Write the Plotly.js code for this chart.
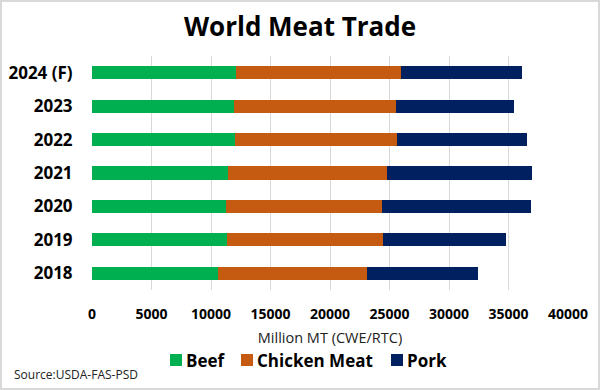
<!DOCTYPE html>
<html>
<head>
<meta charset="utf-8">
<script src="https://cdn.plot.ly/plotly-3.0.1.min.js"></script>
<style>
  html, body { margin: 0; padding: 0; background: #fff; }
  #frame { width: 600px; height: 390px; box-sizing: border-box; border: 2px solid #d9d9d9; }
  #chart { width: 596px; height: 386px; }
</style>
</head>
<body>
<div id="frame"><div id="chart"></div></div>
<script>
const years = ["2018", "2019", "2020", "2021", "2022", "2023", "2024 (F)"];
const beef = [10600, 11384, 11244, 11440, 12055, 11943, 12111];
const chicken = [12480, 13038, 13121, 13319, 13543, 13571, 13874];
const pork = [9342, 10350, 12505, 12195, 10936, 9954, 10155];
const xTicks = [0, 5000, 10000, 15000, 20000, 25000, 30000, 35000, 40000];
const seriesNames = ["Beef", "Chicken Meat", "Pork"];
const seriesColors = ["#00b050", "#c55a11", "#002060"];

const FONT = "Open Sans, sans-serif";
function mk(name, vals, color) {
  return { type: "bar", orientation: "h", name: name, x: vals, y: years,
           marker: { color: color }, width: 0.39, hoverinfo: "x+name", showlegend: false };
}
const data = [
  mk(seriesNames[0], beef, seriesColors[0]),
  mk(seriesNames[1], chicken, seriesColors[1]),
  mk(seriesNames[2], pork, seriesColors[2])
];

// plot area in page pixels (chart div is offset 2px by the frame border)
const M = { l: 90, r: 30, t: 54, b: 98 };
const W = 596, H = 386, OFF = 2;
const PL = OFF + M.l, PR = OFF + W - M.r, PT = OFF + M.t, PB = OFF + H - M.b;
const px = p => (p - PL) / (PR - PL);
const py = p => (PB - p) / (PB - PT);

// legend layout (pixel positions of swatches and labels)
const legendSwatchX = [170, 241, 391];
const legendTextX = [185, 256, 406];
const legendY = 360, sw = 12;

const shapes = [], annotations = [];
seriesNames.forEach((n, i) => {
  shapes.push({ type: "rect", xref: "paper", yref: "paper",
    x0: px(legendSwatchX[i]), x1: px(legendSwatchX[i] + sw),
    y0: py(legendY + sw / 2), y1: py(legendY - sw / 2),
    fillcolor: seriesColors[i], line: { width: 0 } });
  annotations.push({ text: "<b>" + n + "</b>", xref: "paper", yref: "paper",
    x: px(legendTextX[i]), y: py(legendY), xanchor: "left", yanchor: "middle",
    showarrow: false, borderpad: 0,
    font: { family: FONT, size: 17, color: "#000" } });
});
annotations.push({
  text: "Source:USDA-FAS-PSD", xref: "paper", yref: "paper", x: px(13), y: py(374),
  xanchor: "left", yanchor: "middle", showarrow: false, borderpad: 0,
  font: { family: FONT, size: 12, color: "#222" }
});

const layout = {
  width: W, height: H,
  margin: M,
  barmode: "stack",
  paper_bgcolor: "#fff", plot_bgcolor: "#fff",
  font: { family: FONT, color: "#000" },
  title: { text: "<b>World Meat Trade</b>", x: 0.5, xanchor: "center", y: 0.935, yanchor: "middle",
           font: { family: FONT, size: 26, color: "#000" } },
  xaxis: {
    range: [0, 40000], tickvals: xTicks, ticktext: xTicks.map(String),
    showgrid: true, gridcolor: "#d9d9d9", gridwidth: 1, zeroline: false,
    ticks: "outside", ticklen: 11, tickcolor: "rgba(0,0,0,0)",
    tickfont: { family: FONT, size: 14, color: "#000", weight: "bold" },
    title: { text: "Million MT (CWE/RTC)", standoff: 11, font: { family: FONT, size: 14.5, color: "#222" } },
    showline: false, fixedrange: true
  },
  yaxis: {
    type: "category", categoryorder: "array", categoryarray: years,
    ticks: "outside", ticklen: 15, tickcolor: "rgba(0,0,0,0)",
    tickfont: { family: FONT, size: 17, color: "#000", weight: "bold" },
    showgrid: false, zeroline: false, showline: false, fixedrange: true
  },
  showlegend: false,
  shapes: shapes,
  annotations: annotations
};
Plotly.newPlot("chart", data, layout, { displayModeBar: false, staticPlot: true });
</script>
</body>
</html>
